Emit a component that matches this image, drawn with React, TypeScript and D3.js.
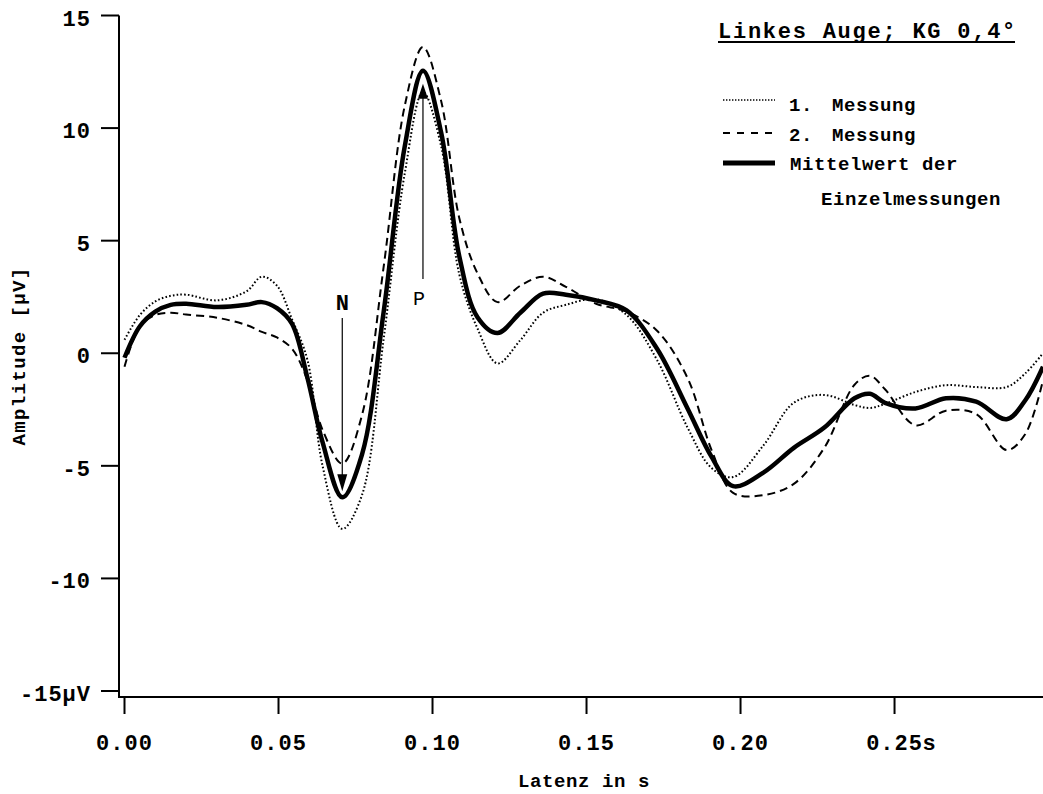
import React from 'react';
import * as d3 from 'd3';

// Latency of each sample (s)
const latency = [
  0, 0.005, 0.01, 0.015, 0.02, 0.03, 0.0396, 0.0446, 0.0495, 0.0544,
  0.0594, 0.0643, 0.0707, 0.0771, 0.0841, 0.091, 0.0969, 0.1028, 0.1087, 0.1146,
  0.1211, 0.1285, 0.1359, 0.1433, 0.1531, 0.163, 0.1729, 0.1828, 0.1906, 0.1976,
  0.2074, 0.2173, 0.2272, 0.237, 0.242, 0.2469, 0.2568, 0.2667, 0.2765, 0.2864,
  0.2924, 0.2982,
];

// 1. Messung (µV)
const messung1 = [
  0.6, 1.7, 2.3, 2.55, 2.6, 2.35, 2.75, 3.4, 3.0, 1.5,
  -0.3, -5.0, -7.8, -6.3, 0.6, 8.0, 11.6, 9.2, 3.5, 1.1,
  -0.45, 0.58, 1.8, 2.15, 2.4, 1.7, -0.3, -3.3, -5.1, -5.5,
  -4.1, -2.2, -1.85, -2.3, -2.43, -2.25, -1.72, -1.42, -1.5, -1.5,
  -0.9, 0.0,
];

// 2. Messung (µV)
const messung2 = [
  -0.6, 1.2, 1.7, 1.8, 1.72, 1.58, 1.25, 0.95, 0.7, 0.2,
  -1.2, -3.4, -4.9, -2.75, 3.8, 11.0, 13.6, 11.2, 6.0, 3.55,
  2.27, 3.0, 3.4, 2.95, 2.2, 1.85, 1.0, -1.1, -4.3, -6.2,
  -6.3, -5.8, -4.2, -1.4, -1.0, -1.6, -3.2, -2.55, -2.7, -4.3,
  -3.6, -1.2,
];

// Mittelwert der Einzelmessungen (µV)
const mittelwert = [
  -0.2, 1.2, 1.85, 2.15, 2.2, 2.05, 2.15, 2.27, 2.0, 1.3,
  -1.1, -3.95, -6.4, -4.5, 1.8, 9.2, 12.55, 9.8, 4.3, 1.6,
  0.9, 1.8, 2.65, 2.6, 2.35, 1.9, 0.2, -2.45, -4.6, -5.9,
  -5.3, -4.2, -3.3, -2.0, -1.8, -2.2, -2.45, -2.0, -2.15, -2.93,
  -2.1, -0.6,
];

const xTicks = [0, 0.05, 0.1, 0.15, 0.2, 0.25];
const xTickLabels = ['0.00', '0.05', '0.10', '0.15', '0.20', '0.25'];
const yTicks = [15, 10, 5, 0, -5, -10, -15];
const yTickLabels = ['15', '10', '5', '0', '-5', '-10', '-15µV'];

const W = 1043;
const H = 794;
const FONT = '"Liberation Mono", "Courier New", monospace';

const x = d3.scaleLinear().domain([0, 0.2982]).range([124.5, 1043]);
const y = d3.scaleLinear().domain([-15, 15]).range([691, 15.5]);

const axisX = 119;
const axisY = 697;

function linePath(values: number[]) {
  const gen = d3
    .line<number>()
    .x((_, i) => x(latency[i]))
    .y((d) => y(d))
    .curve(d3.curveCatmullRom.alpha(0.5));
  return gen(values) || '';
}

export default function App() {
  const iN = mittelwert.indexOf(d3.min(mittelwert) as number);
  const iP = mittelwert.indexOf(d3.max(mittelwert) as number);
  const xN = x(latency[iN]);
  const xP = x(latency[iP]);
  const tipN = y(mittelwert[iN]) - 6;
  const tipP = y(mittelwert[iP]) + 13;

  const legendText = { fontSize: 19, fontWeight: 'bold' as const, letterSpacing: 0.6 };

  return (
    <svg
      width={W}
      height={H}
      style={{ position: 'absolute', left: 0, top: 0, background: '#fff' }}
      fontFamily={FONT}
    >
      <defs>
        <clipPath id="plotClip">
          <rect x={axisX} y={0} width={W - axisX} height={axisY} />
        </clipPath>
      </defs>

      {/* curves */}
      <g clipPath="url(#plotClip)" fill="none" stroke="#000">
        <path d={linePath(messung1)} strokeWidth={2} strokeDasharray="1.6,2.2" />
        <path d={linePath(messung2)} strokeWidth={2} strokeDasharray="8,5" />
        <path d={linePath(mittelwert)} strokeWidth={4.5} strokeLinejoin="round" />
      </g>

      {/* y axis */}
      <line x1={axisX} y1={y(15)} x2={axisX} y2={axisY + 1} stroke="#000" strokeWidth={2} />
      {yTicks.map((t, i) => (
        <g key={t}>
          <line x1={101} x2={axisX} y1={y(t)} y2={y(t)} stroke="#000" strokeWidth={2} />
          <text
            x={91}
            y={y(t) + 10}
            textAnchor="end"
            fontSize={22}
            fontWeight="bold"
            letterSpacing={1}
          >
            {yTickLabels[i]}
          </text>
        </g>
      ))}

      {/* x axis */}
      <line x1={axisX - 1} y1={axisY} x2={W} y2={axisY} stroke="#000" strokeWidth={2} />
      {xTicks.map((t, i) => (
        <g key={t}>
          <line x1={x(t)} x2={x(t)} y1={axisY} y2={714} stroke="#000" strokeWidth={2} />
          <text
            x={x(t)}
            y={750}
            textAnchor="middle"
            fontSize={22}
            fontWeight="bold"
            letterSpacing={1}
          >
            {xTickLabels[i]}
          </text>
          {i === xTicks.length - 1 && (
            <text x={x(t) + 28} y={750} fontSize={22} fontWeight="bold">
              s
            </text>
          )}
        </g>
      ))}

      {/* axis titles */}
      <text x={584} y={787} textAnchor="middle" fontSize={19} fontWeight="bold" letterSpacing={0.6}>
        Latenz in s
      </text>
      <text
        transform="translate(25,356) rotate(-90)"
        textAnchor="middle"
        fontSize={19}
        fontWeight="bold"
        letterSpacing={1.4}
      >
        Amplitude [µV]
      </text>

      {/* N and P markers */}
      <text x={xN} y={310} textAnchor="middle" fontSize={22} fontWeight="bold">
        N
      </text>
      <line x1={xN} x2={xN} y1={318} y2={tipN - 14} stroke="#000" strokeWidth={1.2} />
      <polygon
        points={`${xN - 5},${tipN - 17} ${xN + 5},${tipN - 17} ${xN},${tipN}`}
        fill="#000"
      />
      <text x={xP - 4} y={305} textAnchor="middle" fontSize={20}>
        P
      </text>
      <line x1={xP} x2={xP} y1={279} y2={tipP + 14} stroke="#000" strokeWidth={1.2} />
      <polygon
        points={`${xP - 5},${tipP + 15} ${xP + 5},${tipP + 15} ${xP},${tipP}`}
        fill="#000"
      />

      {/* title and legend */}
      <text x={718} y={38} fontSize={22} fontWeight="bold" letterSpacing={1.75}>
        Linkes Auge; KG 0,4°
      </text>
      <line x1={718} x2={1015} y1={42} y2={42} stroke="#000" strokeWidth={2} />

      <line x1={723} x2={775} y1={100} y2={100} stroke="#000" strokeWidth={1.5} strokeDasharray="1.4,1.6" />
      <text y={111} {...legendText}>
        <tspan x={789}>1.</tspan>
        <tspan x={832}>Messung</tspan>
      </text>
      <line x1={723} x2={777} y1={133} y2={133} stroke="#000" strokeWidth={2} strokeDasharray="7,7" />
      <text y={141} {...legendText}>
        <tspan x={789}>2.</tspan>
        <tspan x={832}>Messung</tspan>
      </text>
      <line x1={723} x2={775} y1={163} y2={163} stroke="#000" strokeWidth={5} />
      <text x={790} y={170} {...legendText}>
        Mittelwert der
      </text>
      <text x={821} y={205} {...legendText}>
        Einzelmessungen
      </text>
    </svg>
  );
}
